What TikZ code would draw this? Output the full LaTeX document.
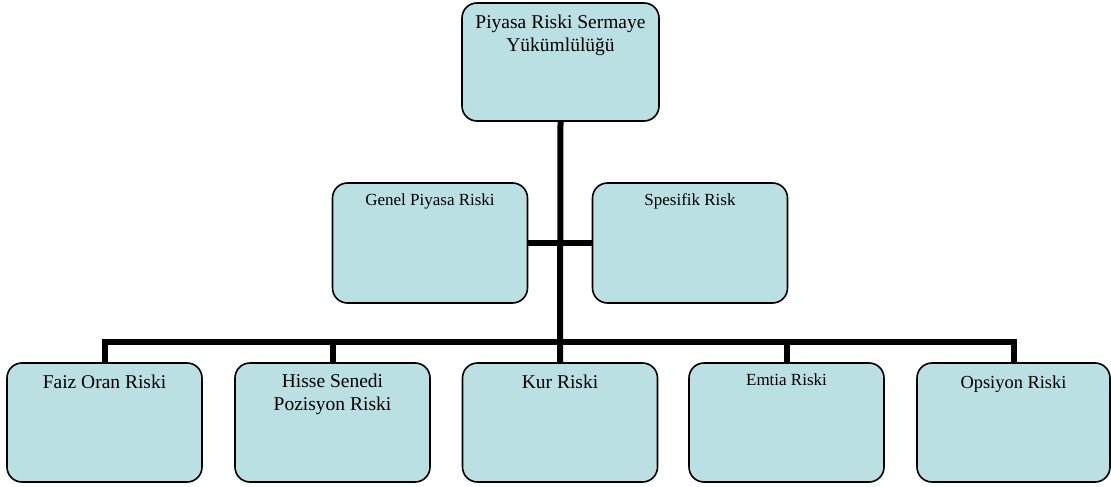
\documentclass[tikz,border=0pt]{standalone}
\usepackage{fontspec}
\setmainfont{Liberation Serif}
\definecolor{boxfill}{RGB}{187,224,227}
\pgfdeclarelayer{background}
\pgfsetlayers{background,main}
\tikzset{
  riskbox/.style={draw=black, line width=1.6pt, fill=boxfill, rounded corners=15pt,
    minimum width=195pt, minimum height=119pt, inner sep=0pt},
  bigtxt/.style={anchor=base, align=center, inner sep=0pt, font=\fontsize{19.5}{22.5}\selectfont},
  midtxt/.style={anchor=base, align=center, inner sep=0pt, font=\fontsize{18.4}{21}\selectfont},
  smalltxt/.style={anchor=base, align=center, inner sep=0pt, font=\fontsize{17}{20}\selectfont},
  link/.style={line width=6pt, line join=miter, line cap=rect}
}
\begin{document}
\begin{tikzpicture}[x=1pt, y=-1pt]
\useasboundingbox (0,0) rectangle (1111,487);

% boxes
\node[riskbox, minimum width=197pt, minimum height=118pt] (top) at (560.5,62) {};
\node[riskbox, minimum height=120pt] (genel) at (430,243) {};
\node[riskbox, minimum height=120pt] (spes) at (690,243) {};
\node[riskbox] (faiz) at (104.5,422.5) {};
\node[riskbox] (hisse) at (332.5,422.5) {};
\node[riskbox] (kur) at (560,422.5) {};
\node[riskbox] (emtia) at (786.5,422.5) {};
\node[riskbox, minimum width=193pt] (ops) at (1013.5,422.5) {};

% connectors, behind the boxes
\coordinate (bus) at (560,342);
\begin{pgfonlayer}{background}
\draw[link] (top.south) -- (kur.north);
\draw[link] (genel.east) -- (spes.west);
\draw[link] (faiz.north) -- (faiz.north |- bus) -- (ops.north |- bus) -- (ops.north);
\draw[link] (hisse.north |- bus) -- (hisse.north);
\draw[link] (emtia.north |- bus) -- (emtia.north);
\end{pgfonlayer}

% labels (base anchor sits on the last line's baseline)
\node[bigtxt] (toptxt) at (560.5,51.5) {Piyasa Riski Sermaye\\Yükümlülüğü};
\node[smalltxt] (geneltxt) at (430,205) {Genel Piyasa Riski};
\node[smalltxt] (spestxt) at (690,205) {Spesifik Risk};
\node[bigtxt] (faiztxt) at (104.5,388) {Faiz Oran Riski};
\node[bigtxt] (hissetxt) at (332.5,410) {Hisse Senedi\\Pozisyon Riski};
\node[bigtxt] (kurtxt) at (560,388) {Kur Riski};
\node[smalltxt] (emtiatxt) at (786.5,385) {Emtia Riski};
\node[midtxt] (opstxt) at (1013.5,388) {Opsiyon Riski};
\end{tikzpicture}
\end{document}
